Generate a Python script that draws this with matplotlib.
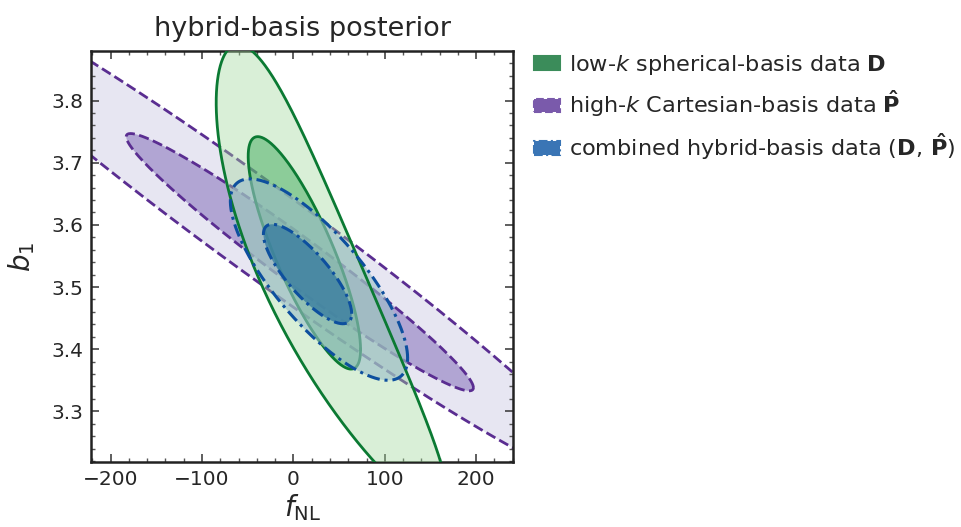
import numpy as np
import matplotlib
matplotlib.use("Agg")
import matplotlib.pyplot as plt
from matplotlib.patches import Patch

# ---- data: contour shapes in the (fNL, b1) plane ----
# order: high-k 2sigma, high-k 1sigma, low-k 2sigma, low-k 1sigma, combined 2sigma, combined 1sigma
contour_ids   = ["Phat_2s", "Phat_1s", "D_2s", "D_1s", "comb_2s", "comb_1s"]
fnl_center    = [-33.0, 7.0, 20.85, 12.0, 28.0, 15.5]
b1_center     = [3.589, 3.540, 3.515, 3.555, 3.512, 3.521]
fnl_halfwidth = [380.0, 190.0, 124.4, 61.5, 97.0, 48.3]
b1_halfwidth  = [0.4086, 0.207, 0.375, 0.187, 0.162, 0.080]
correlation   = [-0.977, -0.975, -0.880, -0.83, -0.78, -0.80]
bend          = [0.0, 0.0, 200.0, 0.0, 0.0, 0.0]   # curvature of the contour (fNL per b1^2)

legend_labels = [r"low-$k$ spherical-basis data $\mathbf{D}$",
                 r"high-$k$ Cartesian-basis data $\mathbf{\hat{P}}$",
                 r"combined hybrid-basis data $(\mathbf{D},\,\mathbf{\hat{P}})$"]
xticks = [-200, -100, 0, 100, 200]
yticks = [3.3, 3.4, 3.5, 3.6, 3.7, 3.8]

TXT = "#262626"
plt.rcParams.update({
    "font.family": ["DejaVu Sans"],
    "mathtext.fontset": "dejavusans",
    "text.color": TXT, "axes.labelcolor": TXT,
    "xtick.color": TXT, "ytick.color": TXT,
})

def contour(i, n=720):
    t = np.linspace(0, 2 * np.pi, n)
    r = correlation[i]
    y = b1_center[i] + b1_halfwidth[i] * (r * np.cos(t) + np.sqrt(1 - r * r) * np.sin(t))
    x = fnl_center[i] + fnl_halfwidth[i] * np.cos(t) + bend[i] * (y - b1_center[i]) ** 2
    return x, y

fig = plt.figure(figsize=(9.61, 5.27), dpi=100)
ax = fig.add_axes([0.0952, 0.1239, 0.4383, 0.7784])

PURP = "#5a2d91"
GREEN = "#0b7a33"
BLUE = "#0d4f9e"
dashdot = (0, (4.2, 1.6, 1.0, 1.6))

# high-k (purple)
x, y = contour(0); ax.fill(x, y, color="#e7e6f2", lw=0, zorder=1)
ax.plot(x, y, color=PURP, lw=2, ls="--", zorder=2)
x, y = contour(1); ax.fill(x, y, color="#b1a5d3", lw=0, zorder=3)
ax.plot(x, y, color=PURP, lw=2, ls="--", zorder=4)
# low-k (green)
x, y = contour(2); ax.fill(x, y, color="#a1d99b", alpha=0.4, lw=0, zorder=5)
xg2, yg2 = x, y
x, y = contour(3); ax.fill(x, y, color="#41ab5d", alpha=0.5, lw=0, zorder=6)
ax.plot(x, y, color=GREEN, lw=2, zorder=7)
# combined (blue)
x, y = contour(4); ax.fill(x, y, color="#9bbec8", alpha=0.6, lw=0, zorder=8)
xb2, yb2 = x, y
x, y = contour(5); ax.fill(x, y, color="#347aa0", alpha=0.75, lw=0, zorder=9)
ax.plot(xg2, yg2, color=GREEN, lw=2, zorder=10)
ax.plot(xb2, yb2, color=BLUE, lw=2.2, ls=dashdot, zorder=11)
ax.plot(x, y, color=BLUE, lw=2.2, ls=dashdot, zorder=12)

ax.set_xlim(-221, 240)
ax.set_ylim(3.219, 3.879)
ax.set_xticks(xticks)
ax.set_yticks(yticks)
ax.set_xticks(np.arange(-220, 241, 20), minor=True)
ax.set_yticks(np.arange(3.22, 3.88, 0.02), minor=True)
ax.tick_params(which="both", direction="in", top=True, right=True, labelsize=14.5, pad=6)
ax.tick_params(which="major", length=6, width=1.1, color="#333333")
ax.tick_params(which="minor", length=3, width=1.0, color="#555555")
for s in ax.spines.values():
    s.set_linewidth(1.8)
    s.set_color("#222222")

ax.set_title("hybrid-basis posterior", fontsize=19.5, pad=11, color=TXT)
ax.set_xlabel(r"$f_{\rm NL}$", fontsize=20, labelpad=2)
ax.set_ylabel(r"$b_1$", fontsize=20, labelpad=10)

handles = [Patch(facecolor="#3b8c5a", edgecolor="#3b8c5a", lw=1.5),
           Patch(facecolor="#7a5aab", edgecolor="#7a5aab", lw=1.5, ls="--"),
           Patch(facecolor="#3a75b5", edgecolor="#3a75b5", lw=1.5, ls=dashdot)]
fig.legend(handles, legend_labels, loc="upper left", bbox_to_anchor=(0.5555, 0.900),
           frameon=False, fontsize=16.1, handlelength=1.15, handleheight=0.55,
           handletextpad=0.42, labelspacing=0.53, borderaxespad=0, borderpad=0)

fig.savefig("out.png", dpi=100)
